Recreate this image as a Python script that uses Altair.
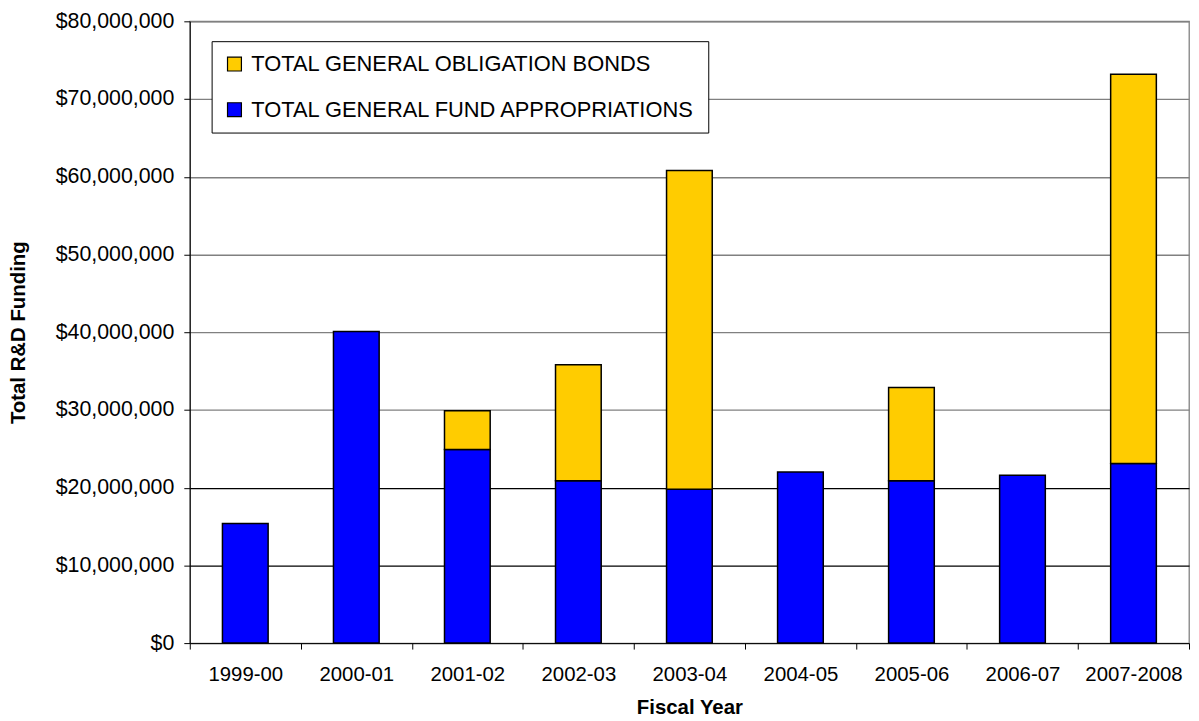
import altair as alt
import pandas as pd

years = ["1999-00", "2000-01", "2001-02", "2002-03", "2003-04",
         "2004-05", "2005-06", "2006-07", "2007-2008"]
general_fund = [15400000, 40100000, 24900000, 20900000, 19800000,
                22000000, 20900000, 21600000, 23100000]
go_bonds = [0, 0, 5000000, 14900000, 41000000,
            0, 12000000, 0, 50100000]

SER_GO = "TOTAL GENERAL OBLIGATION BONDS"
SER_GF = "TOTAL GENERAL FUND APPROPRIATIONS"
series_names = [SER_GO, SER_GF]
series_colors = ["#FFCC00", "#0000FF"]
y_ticks = [0, 10000000, 20000000, 30000000, 40000000, 50000000,
           60000000, 70000000, 80000000]

rows = []
for yr, gf, go in zip(years, general_fund, go_bonds):
    rows.append({"year": yr, "series": SER_GF, "value": gf, "ord": 0})
    rows.append({"year": yr, "series": SER_GO, "value": go, "ord": 1})
df = pd.DataFrame(rows)

FONT = "Liberation Sans, Arial, sans-serif"

chart = alt.Chart(df).transform_filter(
    "datum.value > 0"
).mark_bar(size=46, stroke="black", strokeWidth=1.5).encode(
    x=alt.X("year:N", sort=years, title="Fiscal Year",
            scale=alt.Scale(paddingInner=0, paddingOuter=0),
            axis=alt.Axis(labelAngle=0, tickBand="extent", tickSize=6,
                          tickColor="black", domainColor="black",
                          labelFontSize=20.5, labelColor="black", labelPadding=16,
                          titleFontSize=20.5, titleFontWeight="bold",
                          titleColor="black", titlePadding=12, grid=False,
                          labelFont=FONT, titleFont=FONT)),
    y=alt.Y("value:Q", stack="zero", title="Total R&D Funding",
            scale=alt.Scale(domain=[0, 80000000], nice=False),
            axis=alt.Axis(values=y_ticks, format="$,.0f", tickSize=6,
                          tickColor="black", domainColor="black",
                          labelFontSize=21.5, labelColor="black", labelPadding=10,
                          titleFontSize=20.5, titleFontWeight="bold",
                          titleColor="black", titlePadding=27,
                          gridColor={"condition": {"test": "datum.value > 0 && datum.value <= 20000000", "value": "black"}, "value": "#808080"},
                          gridWidth=1.3,
                          labelFont=FONT, titleFont=FONT)),
    color=alt.Color("series:N",
                    scale=alt.Scale(domain=series_names, range=series_colors),
                    legend=alt.Legend(title=None, orient="none",
                                      legendX=22, legendY=20,
                                      symbolType="square", symbolSize=196,
                                      symbolStrokeColor="black",
                                      symbolStrokeWidth=1.2,
                                      symbolOpacity=1,
                                      labelFontSize=22, labelColor="black",
                                      labelFont=FONT, labelLimit=600,
                                      strokeColor="black", fillColor="white",
                                      padding=12, rowPadding=24,
                                      labelOffset=6)),
    order=alt.Order("ord:Q", sort="ascending"),
).properties(
    width=1006, height=626,
    autosize=alt.AutoSizeParams(type="none"),
    padding={"left": 183, "top": 11, "right": 2, "bottom": 75},
).configure_view(
    stroke="#808080", strokeWidth=1.3
)

chart.save("out.html", embed_options={"renderer": "svg", "actions": False})
